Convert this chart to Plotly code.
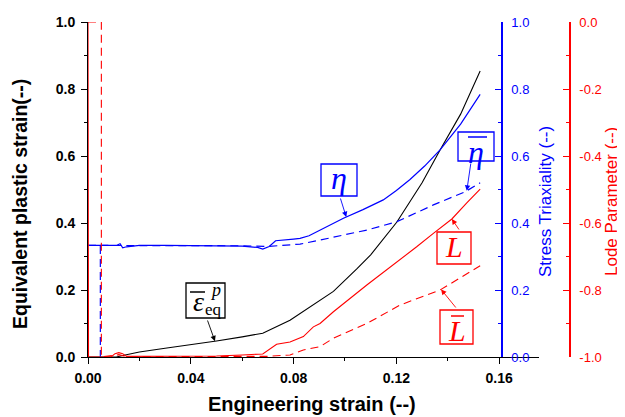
import numpy as np
import plotly.graph_objects as go

# ---------------- data ----------------
# Equivalent plastic strain (left axis)
eps_x = [0.000, 0.011, 0.014, 0.020, 0.030, 0.040, 0.050, 0.060, 0.068, 0.0786, 0.0864,
         0.0955, 0.1046, 0.110, 0.1202, 0.130, 0.137, 0.145, 0.1526]
eps_y = [0.000, 0.000, 0.005, 0.015, 0.026, 0.036, 0.048, 0.060, 0.071, 0.110, 0.150,
         0.196, 0.263, 0.305, 0.403, 0.520, 0.618, 0.725, 0.854]

# Stress triaxiality eta (blue axis)
eta_x = [0.000, 0.011, 0.0125, 0.0135, 0.015, 0.020, 0.030, 0.050, 0.060, 0.066, 0.068,
         0.0705, 0.073, 0.080, 0.0825, 0.086, 0.0903, 0.0994, 0.107, 0.1149, 0.120, 0.1253,
         0.131, 0.137, 0.145, 0.1526]
eta_y = [0.333, 0.333, 0.338, 0.326, 0.329, 0.333, 0.333, 0.331, 0.331, 0.327, 0.322,
         0.330, 0.347, 0.352, 0.354, 0.362, 0.379, 0.414, 0.440, 0.469, 0.497, 0.530,
         0.570, 0.618, 0.695, 0.784]

# Average stress triaxiality eta-bar (blue axis); None marks the drop-out break
etab_x = [0.000, 0.0048, 0.0048, None, 0.0048, 0.020, 0.040, 0.060, 0.070, 0.075, 0.0825, 0.0903,
          0.0955, 0.1085, 0.1202, 0.1344, 0.1467, 0.1526]
etab_y = [0.333, 0.333, 0.000, None, 0.333, 0.333, 0.333, 0.332, 0.330, 0.332, 0.337, 0.349,
          0.357, 0.379, 0.404, 0.454, 0.493, 0.520]

# Lode parameter L (red axis)
lode_x = [0.000, 0.0002, 0.009, 0.0105, 0.012, 0.0135, 0.015, 0.030, 0.050, 0.060, 0.068,
          0.0734, 0.0786, 0.0838, 0.0877, 0.0903, 0.0955, 0.1085, 0.1214, 0.1279, 0.1344,
          0.1416, 0.1474, 0.1526]
lode_y = [0.000, -1.000, -1.000, -0.990, -0.987, -0.990, -0.998, -0.998, -0.997, -0.994, -0.991,
          -0.962, -0.955, -0.939, -0.910, -0.900, -0.865, -0.785, -0.710, -0.671, -0.631,
          -0.588, -0.540, -0.499]

# Average Lode parameter L-bar (red axis)
lodeb_x = [0.000, 0.0052, 0.0052, 0.010, 0.012, 0.015, 0.040, 0.070, 0.0786, 0.0838, 0.0903,
           0.0955, 0.1085, 0.1214, 0.137, 0.1526]
lodeb_y = [0.000, 0.000, -1.000, -0.995, -0.993, -0.999, -0.999, -0.998, -0.994, -0.979, -0.969,
           -0.944, -0.900, -0.845, -0.800, -0.7275]

x_ticks = [0.00, 0.04, 0.08, 0.12, 0.16]
x_ticktext = ["0.00", "0.04", "0.08", "0.12", "0.16"]
left_ticks = [0.0, 0.2, 0.4, 0.6, 0.8, 1.0]
left_ticktext = ["0.0", "0.2", "0.4", "0.6", "0.8", "1.0"]
lode_ticks = [-1.0, -0.8, -0.6, -0.4, -0.2, 0.0]
lode_ticktext = ["-1.0", "-0.8", "-0.6", "-0.4", "-0.2", "0.0"]

# ---------------- layout geometry (screen pixels; page has an 8px body margin) ----------------
OFF = 8
SCR_W, SCR_H = 625, 417
W, H = SCR_W - OFF, SCR_H - OFF
LEFT_PX, RIGHT_PX, TOP_PX, BOT_PX = 88, 570, 22, 357   # screen coords of plot area
X_END_PX = 539
BLUE_PX = 502
ML = LEFT_PX - OFF
MT = TOP_PX - OFF
MR = W - (RIGHT_PX - OFF)
MB = H - (BOT_PX - OFF)
PW = RIGHT_PX - LEFT_PX
PH = BOT_PX - TOP_PX
X_MAX = 0.1755
XDOM = (X_END_PX - LEFT_PX) / PW
BLUE_POS = (BLUE_PX - LEFT_PX) / PW

def pxx(px):
    return (px - LEFT_PX) / PW

def pxy(py):
    return (BOT_PX - py) / PH

def data_px_x(x):
    return LEFT_PX + x / X_MAX * (X_END_PX - LEFT_PX)

def data_px_y(y01):
    return BOT_PX - y01 * PH

BLUE = "#0000FF"
RED = "#FF0000"
BLACK = "#000000"
DASH = "8px,5px"

fig = go.Figure()
fig.add_trace(go.Scatter(x=eps_x, y=eps_y, mode="lines", line=dict(color=BLACK, width=1.1),
                         yaxis="y", showlegend=False))
fig.add_trace(go.Scatter(x=eta_x, y=eta_y, mode="lines", line=dict(color=BLUE, width=1.2),
                         yaxis="y2", showlegend=False))
fig.add_trace(go.Scatter(x=etab_x, y=etab_y, mode="lines", line=dict(color=BLUE, width=1.2, dash=DASH),
                         yaxis="y2", showlegend=False, connectgaps=False))
fig.add_trace(go.Scatter(x=lode_x, y=lode_y, mode="lines", line=dict(color=RED, width=1.1),
                         yaxis="y3", showlegend=False))
fig.add_trace(go.Scatter(x=lodeb_x, y=lodeb_y, mode="lines", line=dict(color=RED, width=1.1, dash=DASH),
                         yaxis="y3", showlegend=False))

ARIAL = "Arial, Liberation Sans, sans-serif"
SERIF = "Times New Roman, Liberation Serif, serif"

fig.update_layout(
    width=W, height=H, template="none",
    margin=dict(l=ML, r=MR, t=MT, b=MB, pad=0),
    paper_bgcolor="white", plot_bgcolor="white",
    showlegend=False,
    xaxis=dict(domain=[0, XDOM], range=[0, X_MAX], tickvals=x_ticks, ticktext=x_ticktext,
               ticks="outside", ticklen=6, tickwidth=1, tickcolor=BLACK,
               minor=dict(ticks="outside", ticklen=3, dtick=0.02, tickcolor=BLACK, tick0=0),
               showline=True, linecolor=BLACK, linewidth=1, showgrid=False, zeroline=False,
               tickfont=dict(family=ARIAL, size=14, color=BLACK, weight="bold"),
               automargin=False, layer="below traces", ticklabelstandoff=2, anchor="y"),
    yaxis=dict(range=[0, 1], tickvals=left_ticks, ticktext=left_ticktext,
               ticks="outside", ticklen=6, tickwidth=1, tickcolor=BLACK,
               minor=dict(ticks="outside", ticklen=3, dtick=0.1, tick0=0, tickcolor=BLACK),
               showline=True, linecolor=BLACK, linewidth=1, showgrid=False, zeroline=False,
               tickfont=dict(family=ARIAL, size=14, color=BLACK, weight="bold"),
               automargin=False, layer="below traces", ticklabelstandoff=3, anchor="x"),
    yaxis2=dict(range=[0, 1], tickvals=left_ticks, ticktext=left_ticktext,
                overlaying="y", anchor="free", position=BLUE_POS, side="right",
                ticks="inside", ticklen=6, tickwidth=1, tickcolor=BLUE,
                minor=dict(ticks="inside", ticklen=3, dtick=0.1, tick0=0, tickcolor=BLUE),
                showline=True, linecolor=BLUE, linewidth=1.5, showgrid=False, zeroline=False,
                tickfont=dict(family=ARIAL, size=13, color=BLUE),
                automargin=False, ticklabelstandoff=6),
    yaxis3=dict(range=[-1, 0], tickvals=lode_ticks, ticktext=lode_ticktext,
                overlaying="y", anchor="free", position=1.0, side="right",
                ticks="inside", ticklen=6, tickwidth=1, tickcolor=RED,
                minor=dict(ticks="inside", ticklen=3, dtick=0.1, tick0=0, tickcolor=RED),
                showline=True, linecolor=RED, linewidth=1.5, showgrid=False, zeroline=False,
                tickfont=dict(family=ARIAL, size=13, color=RED),
                automargin=False, ticklabelstandoff=6),
)

# ---------------- axis titles ----------------
fig.add_annotation(text="Engineering strain (--)", xref="paper", yref="paper",
                   x=pxx(312), y=pxy(404), showarrow=False, xanchor="center", yanchor="middle",
                   font=dict(family=ARIAL, size=20, color=BLACK, weight="bold"))
fig.add_annotation(text="Equivalent plastic strain(--)", xref="paper", yref="paper",
                   x=pxx(20), y=pxy(204), showarrow=False, textangle=-90,
                   xanchor="center", yanchor="middle",
                   font=dict(family=ARIAL, size=19.5, color=BLACK, weight="bold"))
fig.add_annotation(text="Stress Triaxiality (--)", xref="paper", yref="paper",
                   x=pxx(545), y=pxy(202), showarrow=False, textangle=-90,
                   xanchor="center", yanchor="middle",
                   font=dict(family=ARIAL, size=17, color=BLUE))
fig.add_annotation(text="Lode Parameter (--)", xref="paper", yref="paper",
                   x=pxx(611), y=pxy(202), showarrow=False, textangle=-90,
                   xanchor="center", yanchor="middle",
                   font=dict(family=ARIAL, size=17, color=RED))

# ---------------- label boxes ----------------
def box(x0, y0, x1, y1, color):
    fig.add_shape(type="rect", xref="paper", yref="paper",
                  x0=pxx(x0), x1=pxx(x1), y0=pxy(y1), y1=pxy(y0),
                  line=dict(color=color, width=1.3), fillcolor="white", layer="above")

def bar(x0, x1, y, color):
    fig.add_shape(type="line", xref="paper", yref="paper",
                  x0=pxx(x0), x1=pxx(x1), y0=pxy(y), y1=pxy(y),
                  line=dict(color=color, width=1.5), layer="above")

def text(s, cx, cy, color, size):
    fig.add_annotation(text=s, xref="paper", yref="paper", x=pxx(cx), y=pxy(cy),
                       showarrow=False, xanchor="center", yanchor="middle",
                       font=dict(family=SERIF, size=size, color=color))

def arrow(xs, ys, tx, tail_px, color, yaxis_ref, to01):
    pts = [(a, b) for a, b in zip(xs, ys) if a is not None]
    pts = pts[[i for i, p in enumerate(pts) if p[0] >= 0.01][0]:]
    ty = float(np.interp(tx, [p[0] for p in pts], [p[1] for p in pts]))
    tpx = data_px_x(tx)
    tpy = data_px_y(to01(ty))
    fig.add_annotation(x=tx, y=ty, xref="x", yref=yaxis_ref, text="", showarrow=True,
                       ax=tail_px[0] - tpx, ay=tail_px[1] - tpy,
                       arrowhead=2, arrowsize=1.2, arrowwidth=0.9, arrowcolor=color, standoff=0)

ident = lambda v: v
lode01 = lambda v: v + 1.0

# eta
box(321, 164, 357, 196, BLUE)
text("<i>η</i>", 339, 178, BLUE, 32)
arrow(eta_x, eta_y, 0.1005, (340, 197), BLUE, "y2", ident)
# eta-bar
box(458, 132, 494, 161, BLUE)
text("<i>η</i>", 476, 152, BLUE, 32)
bar(468, 487, 137, BLUE)
arrow(etab_x, etab_y, 0.1474, (471, 162), BLUE, "y2", ident)
# L
box(437, 232, 471, 264, RED)
text("<i>L</i>", 454, 247, RED, 30)
arrow(lode_x, lode_y, 0.1416, (460, 231), RED, "y3", lode01)
# L-bar
box(440, 310, 473, 344, RED)
text("<i>L</i>", 457, 330, RED, 30)
bar(451, 464, 316, RED)
arrow(lodeb_x, lodeb_y, 0.1374, (457, 309), RED, "y3", lode01)
# eps
box(186, 283, 225, 318, BLACK)
text("<i>ε</i>", 198, 301, BLACK, 28)
bar(190, 205, 292, BLACK)
text("<i>p</i>", 215, 290, BLACK, 18)
text("eq", 213, 309, BLACK, 17)
arrow(eps_x, eps_y, 0.0494, (207, 319), BLACK, "y", ident)

fig.write_html("out.html")
